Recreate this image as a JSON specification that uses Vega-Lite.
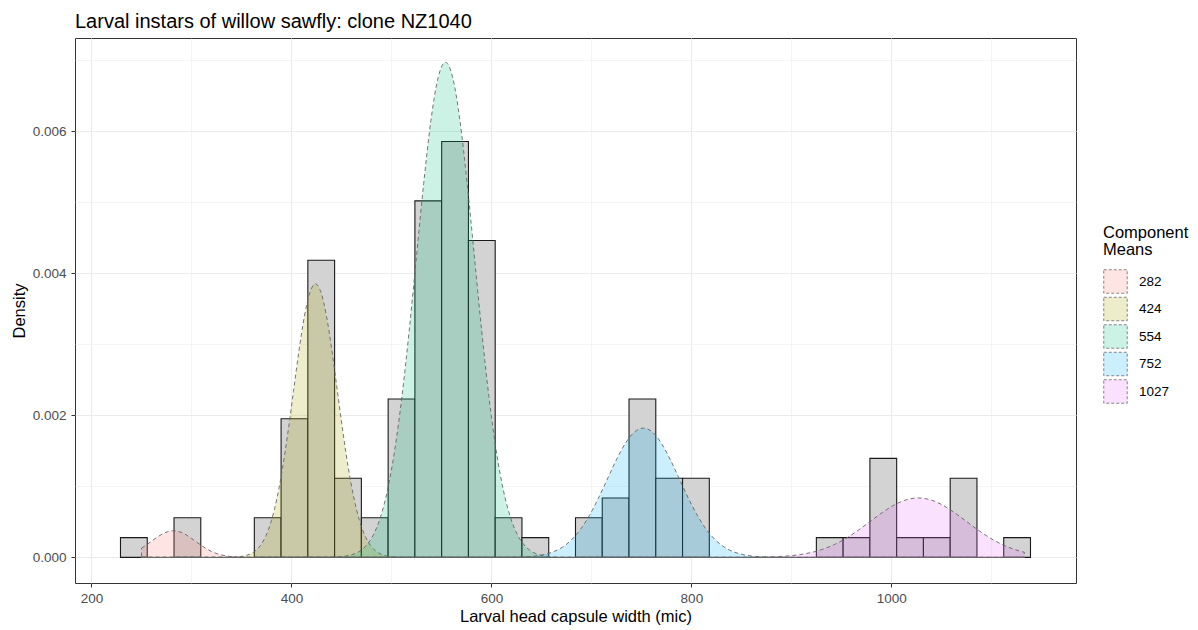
{
  "$schema": "https://vega.github.io/schema/vega-lite/v6.json",
  "width": 1001,
  "height": 545,
  "autosize": {"type": "none"},
  "padding": {"left": 75, "top": 38, "right": 122, "bottom": 47},
  "background": "white",
  "config": {
    "font": "Liberation Sans",
    "view": {"stroke": "#333333", "strokeWidth": 1},
    "axis": {
      "domain": false,
      "labelFontSize": 13.5,
      "labelColor": "#4D4D4D",
      "labelPadding": 4,
      "titleFontSize": 16.5,
      "titleFontWeight": "normal",
      "titleColor": "#000000",
      "tickColor": "#333333",
      "tickSize": 4,
      "tickWidth": 1,
      "gridColor": "#EBEBEB"
    }
  },
  "title": {
    "text": "Larval instars of willow sawfly: clone NZ1040",
    "anchor": "start",
    "frame": "group",
    "fontSize": 20,
    "fontWeight": "normal",
    "color": "#000000",
    "baseline": "alphabetic",
    "offset": -10
  },
  "datasets": {
    "bars": [
      {"start": 229.00, "end": 255.77, "d": 0.000279},
      {"start": 282.54, "end": 309.31, "d": 0.000558},
      {"start": 362.85, "end": 389.62, "d": 0.000558},
      {"start": 389.62, "end": 416.39, "d": 0.001951},
      {"start": 416.39, "end": 443.16, "d": 0.004182},
      {"start": 443.16, "end": 469.93, "d": 0.001115},
      {"start": 469.93, "end": 496.70, "d": 0.000558},
      {"start": 496.70, "end": 523.47, "d": 0.002230},
      {"start": 523.47, "end": 550.24, "d": 0.005018},
      {"start": 550.24, "end": 577.01, "d": 0.005854},
      {"start": 577.01, "end": 603.78, "d": 0.004460},
      {"start": 603.78, "end": 630.55, "d": 0.000558},
      {"start": 630.55, "end": 657.32, "d": 0.000279},
      {"start": 684.09, "end": 710.86, "d": 0.000558},
      {"start": 710.86, "end": 737.63, "d": 0.000836},
      {"start": 737.63, "end": 764.40, "d": 0.002230},
      {"start": 764.40, "end": 791.17, "d": 0.001115},
      {"start": 791.17, "end": 817.94, "d": 0.001115},
      {"start": 925.02, "end": 951.79, "d": 0.000279},
      {"start": 951.79, "end": 978.56, "d": 0.000279},
      {"start": 978.56, "end": 1005.33, "d": 0.001394},
      {"start": 1005.33, "end": 1032.10, "d": 0.000279},
      {"start": 1032.10, "end": 1058.87, "d": 0.000279},
      {"start": 1058.87, "end": 1085.64, "d": 0.001115},
      {"start": 1112.41, "end": 1139.18, "d": 0.000279}
    ],
    "curves": [
      {"c": "282", "x": 250, "y": 0.000130},
      {"c": "282", "x": 254.5, "y": 0.0001717},
      {"c": "282", "x": 260, "y": 0.0002274},
      {"c": "282", "x": 265.5, "y": 0.0002831},
      {"c": "282", "x": 271, "y": 0.0003309},
      {"c": "282", "x": 276.5, "y": 0.0003635},
      {"c": "282", "x": 282, "y": 0.000375},
      {"c": "282", "x": 287.5, "y": 0.0003635},
      {"c": "282", "x": 293, "y": 0.0003309},
      {"c": "282", "x": 298.5, "y": 0.0002831},
      {"c": "282", "x": 304, "y": 0.0002274},
      {"c": "282", "x": 309.5, "y": 0.0001717},
      {"c": "282", "x": 315, "y": 0.0001217},
      {"c": "282", "x": 320.5, "y": 0.0000811},
      {"c": "282", "x": 326, "y": 0.0000508},
      {"c": "282", "x": 331.5, "y": 0.0000298},
      {"c": "282", "x": 337, "y": 0.0000165},
      {"c": "282", "x": 342.5, "y": 0.0000085},
      {"c": "282", "x": 348, "y": 0.0000042},
      {"c": "282", "x": 353.5, "y": 0.0000019},
      {"c": "282", "x": 359, "y": 0.0000008},
      {"c": "282", "x": 370, "y": 0},
      {"c": "282", "x": 1133, "y": 0},

      {"c": "424", "x": 250, "y": 0},
      {"c": "424", "x": 336, "y": 0.0000013},
      {"c": "424", "x": 341.5, "y": 0.0000034},
      {"c": "424", "x": 347, "y": 0.0000084},
      {"c": "424", "x": 352.5, "y": 0.0000196},
      {"c": "424", "x": 358, "y": 0.0000428},
      {"c": "424", "x": 363.5, "y": 0.0000877},
      {"c": "424", "x": 369, "y": 0.0001692},
      {"c": "424", "x": 374.5, "y": 0.0003063},
      {"c": "424", "x": 380, "y": 0.0005211},
      {"c": "424", "x": 385.5, "y": 0.0008326},
      {"c": "424", "x": 391, "y": 0.0012499},
      {"c": "424", "x": 396.5, "y": 0.0017626},
      {"c": "424", "x": 402, "y": 0.0023351},
      {"c": "424", "x": 407.5, "y": 0.0029061},
      {"c": "424", "x": 413, "y": 0.0033976},
      {"c": "424", "x": 418.5, "y": 0.0037315},
      {"c": "424", "x": 424, "y": 0.00385},
      {"c": "424", "x": 429.5, "y": 0.0037315},
      {"c": "424", "x": 435, "y": 0.0033976},
      {"c": "424", "x": 440.5, "y": 0.0029061},
      {"c": "424", "x": 446, "y": 0.0023351},
      {"c": "424", "x": 451.5, "y": 0.0017626},
      {"c": "424", "x": 457, "y": 0.0012499},
      {"c": "424", "x": 462.5, "y": 0.0008326},
      {"c": "424", "x": 468, "y": 0.0005211},
      {"c": "424", "x": 473.5, "y": 0.0003063},
      {"c": "424", "x": 479, "y": 0.0001692},
      {"c": "424", "x": 484.5, "y": 0.0000877},
      {"c": "424", "x": 490, "y": 0.0000428},
      {"c": "424", "x": 495.5, "y": 0.0000196},
      {"c": "424", "x": 501, "y": 0.0000084},
      {"c": "424", "x": 506.5, "y": 0.0000034},
      {"c": "424", "x": 512, "y": 0.0000013},
      {"c": "424", "x": 1133, "y": 0},

      {"c": "554", "x": 250, "y": 0},
      {"c": "554", "x": 438, "y": 0.0000023},
      {"c": "554", "x": 445.25, "y": 0.0000062},
      {"c": "554", "x": 452.5, "y": 0.0000152},
      {"c": "554", "x": 459.75, "y": 0.0000354},
      {"c": "554", "x": 467, "y": 0.0000774},
      {"c": "554", "x": 474.25, "y": 0.0001589},
      {"c": "554", "x": 481.5, "y": 0.0003063},
      {"c": "554", "x": 488.75, "y": 0.0005545},
      {"c": "554", "x": 496, "y": 0.0009433},
      {"c": "554", "x": 503.25, "y": 0.0015074},
      {"c": "554", "x": 510.5, "y": 0.0022628},
      {"c": "554", "x": 517.75, "y": 0.0031911},
      {"c": "554", "x": 525, "y": 0.0042275},
      {"c": "554", "x": 532.25, "y": 0.0052612},
      {"c": "554", "x": 539.5, "y": 0.006151},
      {"c": "554", "x": 546.75, "y": 0.0067555},
      {"c": "554", "x": 554, "y": 0.00697},
      {"c": "554", "x": 561.25, "y": 0.0067555},
      {"c": "554", "x": 568.5, "y": 0.006151},
      {"c": "554", "x": 575.75, "y": 0.0052612},
      {"c": "554", "x": 583, "y": 0.0042275},
      {"c": "554", "x": 590.25, "y": 0.0031911},
      {"c": "554", "x": 597.5, "y": 0.0022628},
      {"c": "554", "x": 604.75, "y": 0.0015074},
      {"c": "554", "x": 612, "y": 0.0009433},
      {"c": "554", "x": 619.25, "y": 0.0005545},
      {"c": "554", "x": 626.5, "y": 0.0003063},
      {"c": "554", "x": 633.75, "y": 0.0001589},
      {"c": "554", "x": 641, "y": 0.0000774},
      {"c": "554", "x": 648.25, "y": 0.0000354},
      {"c": "554", "x": 655.5, "y": 0.0000152},
      {"c": "554", "x": 662.75, "y": 0.0000062},
      {"c": "554", "x": 670, "y": 0.0000023},
      {"c": "554", "x": 1133, "y": 0},

      {"c": "752", "x": 250, "y": 0},
      {"c": "752", "x": 608, "y": 0.0000006},
      {"c": "752", "x": 617, "y": 0.0000016},
      {"c": "752", "x": 626, "y": 0.000004},
      {"c": "752", "x": 635, "y": 0.0000093},
      {"c": "752", "x": 644, "y": 0.0000202},
      {"c": "752", "x": 653, "y": 0.0000415},
      {"c": "752", "x": 662, "y": 0.00008},
      {"c": "752", "x": 671, "y": 0.0001448},
      {"c": "752", "x": 680, "y": 0.0002463},
      {"c": "752", "x": 689, "y": 0.0003936},
      {"c": "752", "x": 698, "y": 0.0005909},
      {"c": "752", "x": 707, "y": 0.0008333},
      {"c": "752", "x": 716, "y": 0.0011039},
      {"c": "752", "x": 725, "y": 0.0013738},
      {"c": "752", "x": 734, "y": 0.0016062},
      {"c": "752", "x": 743, "y": 0.001764},
      {"c": "752", "x": 752, "y": 0.00182},
      {"c": "752", "x": 761, "y": 0.001764},
      {"c": "752", "x": 770, "y": 0.0016062},
      {"c": "752", "x": 779, "y": 0.0013738},
      {"c": "752", "x": 788, "y": 0.0011039},
      {"c": "752", "x": 797, "y": 0.0008333},
      {"c": "752", "x": 806, "y": 0.0005909},
      {"c": "752", "x": 815, "y": 0.0003936},
      {"c": "752", "x": 824, "y": 0.0002463},
      {"c": "752", "x": 833, "y": 0.0001448},
      {"c": "752", "x": 842, "y": 0.00008},
      {"c": "752", "x": 851, "y": 0.0000415},
      {"c": "752", "x": 860, "y": 0.0000202},
      {"c": "752", "x": 869, "y": 0.0000093},
      {"c": "752", "x": 878, "y": 0.000004},
      {"c": "752", "x": 887, "y": 0.0000016},
      {"c": "752", "x": 896, "y": 0.0000006},
      {"c": "752", "x": 1133, "y": 0},

      {"c": "1027", "x": 250, "y": 0},
      {"c": "1027", "x": 835, "y": 0.0000003},
      {"c": "1027", "x": 847, "y": 0.0000007},
      {"c": "1027", "x": 859, "y": 0.0000018},
      {"c": "1027", "x": 871, "y": 0.0000043},
      {"c": "1027", "x": 883, "y": 0.0000093},
      {"c": "1027", "x": 895, "y": 0.0000191},
      {"c": "1027", "x": 907, "y": 0.0000368},
      {"c": "1027", "x": 919, "y": 0.0000666},
      {"c": "1027", "x": 931, "y": 0.0001133},
      {"c": "1027", "x": 943, "y": 0.000181},
      {"c": "1027", "x": 955, "y": 0.0002717},
      {"c": "1027", "x": 967, "y": 0.0003832},
      {"c": "1027", "x": 979, "y": 0.0005077},
      {"c": "1027", "x": 991, "y": 0.0006318},
      {"c": "1027", "x": 1003, "y": 0.0007387},
      {"c": "1027", "x": 1015, "y": 0.0008112},
      {"c": "1027", "x": 1027, "y": 0.000837},
      {"c": "1027", "x": 1039, "y": 0.0008112},
      {"c": "1027", "x": 1051, "y": 0.0007387},
      {"c": "1027", "x": 1063, "y": 0.0006318},
      {"c": "1027", "x": 1075, "y": 0.0005077},
      {"c": "1027", "x": 1087, "y": 0.0003832},
      {"c": "1027", "x": 1099, "y": 0.0002717},
      {"c": "1027", "x": 1111, "y": 0.000181},
      {"c": "1027", "x": 1123, "y": 0.0001133},
      {"c": "1027", "x": 1133, "y": 0.0000731}
    ]
  },
  "layer": [
    {
      "data": {"name": "bars"},
      "mark": {"type": "rect", "fill": "#D3D3D3", "stroke": "#1A1A1A", "strokeWidth": 1.1},
      "encoding": {
        "x": {
          "field": "start",
          "type": "quantitative",
          "scale": {"domain": [183.5, 1184.7], "nice": false, "zero": false},
          "axis": {
            "title": "Larval head capsule width (mic)",
            "values": [200, 300, 400, 500, 600, 700, 800, 900, 1000, 1100],
            "format": "d",
            "labelExpr": "datum.value % 200 === 0 ? datum.label : ''",
            "tickOpacity": {"condition": {"test": "datum.value % 200 === 0", "value": 1}, "value": 0},
            "gridWidth": {"condition": {"test": "datum.value % 200 === 0", "value": 1.1}, "value": 0.55},
            "titlePadding": 4
          }
        },
        "x2": {"field": "end"},
        "y": {
          "field": "d",
          "type": "quantitative",
          "scale": {"domain": [-0.00036, 0.00731], "nice": false, "zero": false},
          "axis": {
            "title": "Density",
            "values": [0, 0.001, 0.002, 0.003, 0.004, 0.005, 0.006, 0.007],
            "labelExpr": "round(datum.value * 1000) % 2 === 0 ? format(datum.value, '.3f') : ''",
            "tickOpacity": {"condition": {"test": "round(datum.value * 1000) % 2 === 0", "value": 1}, "value": 0},
            "gridWidth": {"condition": {"test": "round(datum.value * 1000) % 2 === 0", "value": 1.1}, "value": 0.55},
            "labelPadding": 5,
            "titlePadding": 5
          }
        },
        "y2": {"datum": 0}
      }
    },
    {
      "data": {"name": "curves"},
      "mark": {
        "type": "area",
        "interpolate": "monotone",
        "stroke": "#666666",
        "strokeWidth": 0.9,
        "strokeDash": [4, 3]
      },
      "encoding": {
        "x": {"field": "x", "type": "quantitative"},
        "y": {"field": "y", "type": "quantitative", "stack": null},
        "y2": {"datum": 0},
        "color": {
          "field": "c",
          "type": "nominal",
          "scale": {
            "domain": ["282", "424", "554", "752", "1027"],
            "range": ["rgba(248,118,109,0.2)", "rgba(163,165,0,0.2)", "rgba(0,191,125,0.2)", "rgba(0,176,246,0.2)", "rgba(231,107,243,0.2)"]
          },
          "legend": {
            "title": ["Component", "Means"],
            "orient": "none",
            "legendX": 1028,
            "legendY": 187,
            "padding": 0,
            "titleFontSize": 16.5,
            "titleFontWeight": "normal",
            "titleColor": "#000000",
            "titleLineHeight": 16.5,
            "titlePadding": 11,
            "labelFontSize": 13.5,
            "labelColor": "#000000",
            "labelOffset": 11,
            "symbolType": "square",
            "symbolSize": 552,
            "symbolStrokeColor": "#6A6A6A",
            "symbolStrokeWidth": 0.8,
            "symbolDash": [3, 2],
            "symbolOpacity": 1,
            "rowPadding": 0.5
          }
        }
      }
    }
  ]
}
